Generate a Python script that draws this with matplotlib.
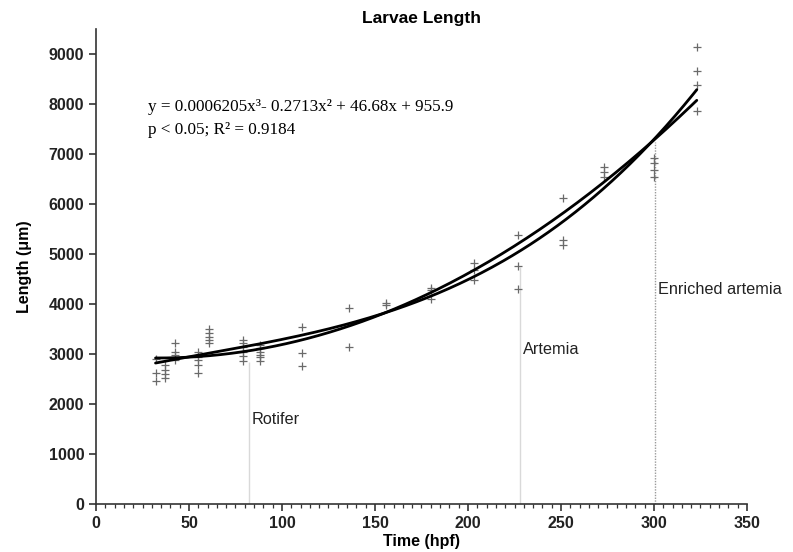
import matplotlib
matplotlib.use("Agg")
import matplotlib.pyplot as plt
from matplotlib.ticker import MultipleLocator
import numpy as np

# ---- data ----
time_pts = [32, 32, 32,
            37, 37, 37, 37,
            42.5, 42.5, 42.5, 42.5,
            55, 55, 55, 55, 55,
            61, 61, 61, 61, 61,
            79, 79, 79, 79, 79, 79,
            88, 88, 88, 88, 88, 88,
            111, 111, 111,
            136, 136,
            156, 156,
            180, 180, 180,
            203, 203, 203,
            227, 227, 227,
            251, 251, 251,
            273, 273, 273,
            300, 300, 300, 300,
            323, 323, 323, 323]
length_pts = [2900, 2620, 2460,
              2780, 2680, 2600, 2520,
              3220, 3040, 2980, 2880,
              3040, 2940, 2880, 2780, 2620,
              3500, 3420, 3340, 3280, 3220,
              3280, 3220, 3140, 3040, 2960, 2860,
              3180, 3120, 3040, 2980, 2940, 2860,
              3540, 3020, 2760,
              3920, 3140,
              4020, 3980,
              4320, 4280, 4100,
              4820, 4680, 4480,
              5380, 4760, 4300,
              6120, 5280, 5180,
              6740, 6640, 6540,
              6920, 6820, 6680, 6540,
              9140, 8660, 8380, 7860]

# points
curve_x = [32, 42, 60, 78, 96, 113, 131, 149, 167, 181, 199, 217, 235, 253, 271, 289, 300.5, 323]
curve_a = [2833, 2890, 2990, 3113, 3280, 3413, 3560, 3733, 3947, 4180, 4480, 4833,
           5247, 5713, 6247, 6813, 7313, 8313]
curve_b = [2917, 2925, 2960, 3033, 3180, 3333, 3493, 3693, 3947, 4280, 4613, 4980,
           5413, 5880, 6380, 6880, 7313, 8080]

stage_names = ["Rotifer", "Artemia", "Enriched artemia"]
stage_times = [82, 228, 300.5]
stage_tops = [2850, 4750, 7250]
stage_label_y = [1680, 3080, 4280]

x_ticks = [0, 50, 100, 150, 200, 250, 300, 350]
y_ticks = [0, 1000, 2000, 3000, 4000, 5000, 6000, 7000, 8000, 9000]

plt.rcParams['font.family'] = ['Liberation Sans', 'DejaVu Sans']

fig = plt.figure(figsize=(7.93, 5.52), dpi=100)
ax = fig.add_axes([96/793, 48/552, (747-96)/793, (504-29)/552])

# stage lines
ax.vlines(stage_times[0], 0, stage_tops[0], colors="#d9d9d9", lw=1.0)
ax.vlines(stage_times[1], 0, stage_tops[1], colors="#d9d9d9", lw=1.0)
ax.vlines(stage_times[2], 0, stage_tops[2], colors="#9a9a9a", lw=1.0, linestyles=(0, (1, 1)))
for name, t, ly in zip(stage_names, stage_times, stage_label_y):
    ax.text(t + 1.5, ly, name, fontsize=11.7, color="#222222", va="center", ha="left")

# data points
ax.scatter(time_pts, length_pts, marker="+", s=30, color="#6a6a6a", linewidths=0.9, zorder=3)

# fitted curves (smooth regression through the points)
xs = np.linspace(min(curve_x), max(curve_x), 300)
for cy in (curve_a, curve_b):
    coef = np.polyfit(curve_x, cy, 3)
    ax.plot(xs, np.polyval(coef, xs), color="black", lw=2.0, zorder=4, solid_capstyle="round")

# equation
ax.text(28, 7940, "y = 0.0006205x³- 0.2713x² + 46.68x + 955.9",
        family="Liberation Serif", fontsize=12.3, va="center", ha="left")
ax.text(28, 7480, "p < 0.05; R² = 0.9184",
        family="Liberation Serif", fontsize=12.3, va="center", ha="left")

ax.set_xlim(0, 350)
ax.set_ylim(0, 9500)
ax.set_xticks(x_ticks)
ax.set_yticks(y_ticks)
ax.xaxis.set_minor_locator(MultipleLocator(5))
for s in ["top", "right"]:
    ax.spines[s].set_visible(False)
for s in ["left", "bottom"]:
    ax.spines[s].set_linewidth(1.2)
    ax.spines[s].set_color("#333333")
ax.tick_params(axis="both", which="major", direction="out", length=5, width=1.1, labelsize=11.5, colors="#222222")
ax.tick_params(axis="x", which="minor", direction="out", length=3, width=0.9, colors="#333333")
for lab in ax.get_xticklabels() + ax.get_yticklabels():
    lab.set_fontweight("bold")

ax.set_title("Larvae Length", fontsize=12.5, fontweight="bold", pad=4)
ax.set_xlabel("Time (hpf)", fontsize=11.5, fontweight="bold", labelpad=2)
ax.set_ylabel("Length (μm)", fontsize=11.5, fontweight="bold", labelpad=12)

fig.savefig("out.png", dpi=100)
